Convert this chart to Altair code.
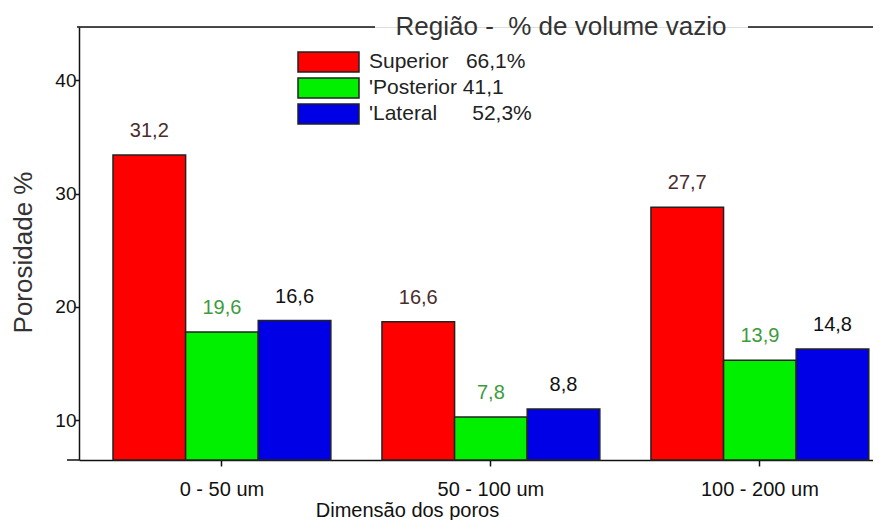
import json
import altair as alt
import pandas as pd

# ---- data ----
cats = ["0 - 50 um", "50 - 100 um", "100 - 200 um"]
regions = ["Superior", "Posterior", "Lateral"]
superior = [33.4, 18.7, 28.8]
posterior = [17.8, 10.3, 15.3]
lateral = [18.8, 11.0, 16.3]
superior_lbl = ["31,2", "16,6", "27,7"]
posterior_lbl = ["19,6", "7,8", "13,9"]
lateral_lbl = ["16,6", "8,8", "14,8"]
legend_lbl = ["Superior\u00a0\u00a0 66,1%", "'Posterior 41,1", "'Lateral\u00a0\u00a0\u00a0\u00a0\u00a0 52,3%"]
bar_colors = ["#ff0000", "#00f000", "#0000e6"]
label_colors = ["#4a2c2c", "#3c9c3c", "#111111"]
y_ticks = [10, 20, 30, 40]
title_text = "Região -\u00a0 % de volume vazio"
y_title = "Porosidade %"
x_title = "Dimensão dos poros"

# ---- table ----
vals = [superior, posterior, lateral]
lbls = [superior_lbl, posterior_lbl, lateral_lbl]
rows = []
for ri, r in enumerate(regions):
    for ci, c in enumerate(cats):
        rows.append({"cat": c, "region": r, "value": vals[ri][ci],
                     "lbl": lbls[ri][ci], "lc": label_colors[ri]})
df = pd.DataFrame(rows)

FONT = "Liberation Sans"
W, H = 794, 433
ymin, ymax = 6.5, 44.7

label_expr = " : ".join(
    f"datum.label == {json.dumps(r)} ? {json.dumps(t, ensure_ascii=False)}"
    for r, t in zip(regions, legend_lbl)
) + " : datum.label"

xenc = alt.X("cat:N", sort=cats,
             scale=alt.Scale(paddingInner=0.19, paddingOuter=0.071, align=0.89),
             axis=alt.Axis(title=x_title, labelAngle=0, labelFontSize=20, labelFont=FONT,
                           labelColor="#111", labelPadding=13, tickSize=6, tickWidth=1.5,
                           tickColor="#111", domainColor="#111", domainWidth=1.5,
                           titleFontSize=20, titleFont=FONT, titleFontWeight="normal",
                           titleColor="#111", titleX=328, titleY=50, titleBaseline="middle",
                           titleAlign="center"))
xoff = alt.XOffset("region:N", sort=regions, scale=alt.Scale(paddingInner=0, paddingOuter=0))
yscale = alt.Scale(domain=[ymin, ymax], nice=False, zero=False)

base = alt.Chart(df)

bars = base.mark_bar(stroke="#222", strokeWidth=1.5).encode(
    x=xenc,
    xOffset=xoff,
    y=alt.Y("value:Q", scale=yscale,
            axis=alt.Axis(values=y_ticks, grid=False, labelFontSize=19, labelFont=FONT,
                          labelColor="#111", labelPadding=-1, tickSize=4, tickWidth=1.5,
                          tickColor="#111", domainColor="#111", domainWidth=1.5,
                          title=y_title, titleFontSize=26, titleFont=FONT,
                          titleFontWeight="normal", titleColor="#333",
                          titleX=-56, titleY=225, titleAlign="center",
                          titleBaseline="middle")),
    y2=alt.datum(ymin),
    color=alt.Color("region:N", sort=regions,
                    scale=alt.Scale(domain=regions, range=bar_colors),
                    legend=alt.Legend(orient="none", legendX=218, legendY=24, title=None,
                                      symbolType="M-1,-1H5.1V1H-1Z", symbolSize=400,
                                      symbolStrokeColor="#222", symbolStrokeWidth=1.5,
                                      symbolOpacity=1, labelFontSize=21, labelFont=FONT,
                                      labelColor="#222", labelOffset=50, rowPadding=0,
                                      padding=0, labelExpr=label_expr, labelLimit=400)),
)

texts = base.mark_text(dy=-24, fontSize=20, font=FONT, baseline="middle").encode(
    x=alt.X("cat:N", sort=cats),
    xOffset=alt.XOffset("region:N", sort=regions),
    y=alt.Y("value:Q"),
    text="lbl:N",
    fill=alt.Fill("lc:N", scale=None),
)

one = alt.Chart(pd.DataFrame({"a": [0]}))
rule_left = one.mark_rule(color="#111", strokeWidth=1.5).encode(
    x=alt.value(-2), x2=alt.value(296), y=alt.value(0))
rule_right = one.mark_rule(color="#111", strokeWidth=1.5).encode(
    x=alt.value(669), x2=alt.value(W), y=alt.value(0))
axis_ext = one.mark_rule(color="#111", strokeWidth=1.5).encode(
    x=alt.value(-12), x2=alt.value(0), y=alt.value(H))
title_mark = one.mark_text(fontSize=26, font=FONT, color="#333", baseline="middle",
                           align="center").encode(
    x=alt.value(482), y=alt.value(0), text=alt.value(title_text))

chart = alt.layer(bars, texts, rule_left, rule_right, axis_ext, title_mark).properties(
    width=W, height=H,
    padding={"left": 71, "top": 19, "right": 0, "bottom": 60},
    autosize=alt.AutoSizeParams(type="none"),
).configure_view(stroke=None).configure(background="white")

chart.save("out.html", embed_options={"renderer": "svg", "actions": False})
